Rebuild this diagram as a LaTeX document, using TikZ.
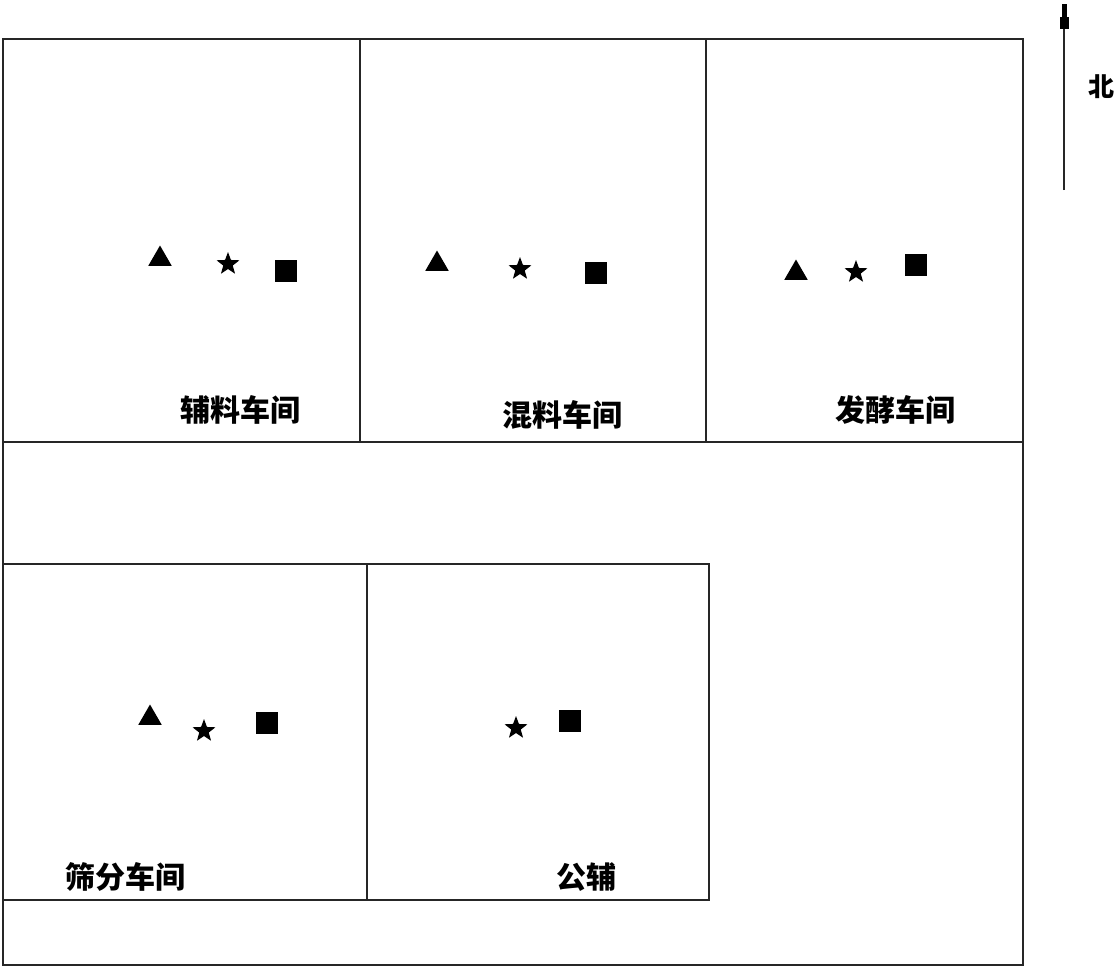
\documentclass[tikz,border=0pt]{standalone}
\usepackage{fontspec}
\newfontfamily\cjk{Noto Sans CJK SC}
\usetikzlibrary{shapes.geometric}
\begin{document}
\begin{tikzpicture}[x=1pt,y=-1pt,
  wall/.style={draw=black!85,line width=1.3pt},
  tri/.style={regular polygon,regular polygon sides=3,fill=black,inner sep=0pt,minimum size=27pt},
  starsym/.style={star,star points=5,star point ratio=2.4,fill=black,inner sep=0pt,minimum size=24pt},
  sq/.style={rectangle,fill=black,inner sep=0pt,minimum size=22pt},
  lbl/.style={font=\cjk\fontsize{30}{34}\selectfont\bfseries,inner sep=0pt}]
\useasboundingbox (0,0) rectangle (1120,967);
% outer boundary and rooms
\draw[wall] (3,39) rectangle (1023,965);
\draw[wall] (3,442) -- (1023,442);
\draw[wall] (360,39) -- (360,442);
\draw[wall] (706,39) -- (706,442);
\draw[wall] (3,564) -- (709,564) -- (709,900) -- (3,900);
\draw[wall] (367,564) -- (367,900);
% labels
\node[lbl] (l1) at (240,410) {辅料车间};
\node[lbl] (l2) at (562,415) {混料车间};
\node[lbl] (l3) at (895,410) {发酵车间};
\node[lbl] (l4) at (125,877) {筛分车间};
\node[lbl] (l5) at (586,877) {公辅};
% symbols
\node[tri] (t1) at (160,259) {};
\node[starsym] (s1) at (228,264) {};
\node[sq] (q1) at (286,271) {};
\node[tri] (t2) at (437,264) {};
\node[starsym] (s2) at (520,269) {};
\node[sq] (q2) at (596,273) {};
\node[tri] (t3) at (796,273) {};
\node[starsym] (s3) at (856,272) {};
\node[sq] (q3) at (916,265) {};
\node[tri] (t4) at (150,718) {};
\node[starsym] (s4) at (204,731) {};
\node[sq] (q4) at (267,723) {};
\node[starsym] (s5) at (516,728) {};
\node[sq] (q5) at (570,721) {};
% north arrow
\coordinate (nb) at (1064,190);
\coordinate (nt) at (1064,6);
\draw[line width=1.3pt,black!85] (nb) -- (nt);
\fill[black] (1059.5,29) rectangle (1068.5,17);
\fill[black] (1061.5,18) rectangle (1066.5,4);
\node[lbl,font=\cjk\fontsize{26}{30}\selectfont\bfseries] (north) at (1101,87) {北};
\end{tikzpicture}
\end{document}
